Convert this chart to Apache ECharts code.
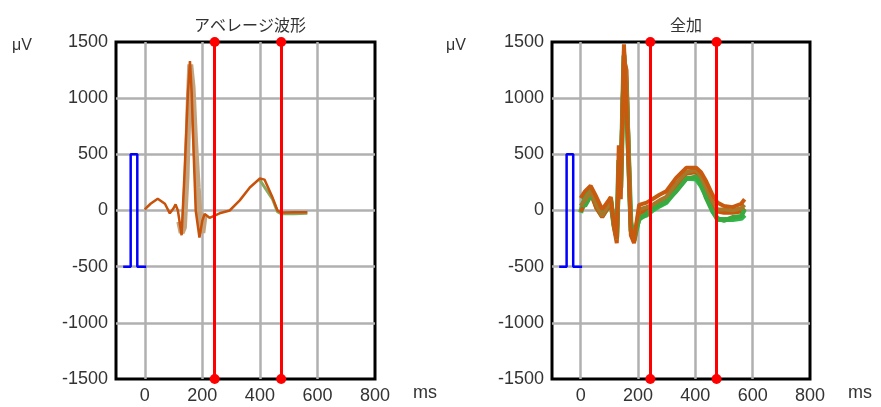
<!DOCTYPE html>
<html>
<head>
<meta charset="utf-8">
<script src="https://cdn.jsdelivr.net/npm/echarts@6/dist/echarts.min.js"></script>
<style>html,body{margin:0;padding:0;background:#fff;}#c{width:881px;height:407px;}</style>
</head>
<body>
<div id="c"></div>
<script>
// ---- data ----
const xTicks = [0, 200, 400, 600, 800];
const cursorTimes = [243, 474];
const calT = [-75, -49, -49, -26, -26, 5];
const calV = [-500, -500, 500, 500, -500, -500];

// average waveform (left)
const avgT = [0, 20, 45, 70, 87, 100, 107, 115, 128, 139, 150, 157, 163, 170, 177, 190, 200, 208, 225, 260, 295, 330, 365, 400, 416, 444, 461, 475, 520, 565];
const avgV = [10, 60, 105, 60, -25, 20, 55, 0, -220, 380, 1050, 1330, 1050, 500, 0, -240, -90, -30, -65, -25, 0, 90, 205, 285, 275, 115, 0, -18, -15, -15];
const avgShadowT = [120, 128, 136, 145, 152, 158, 166, 175, 184, 192, 200, 208];
const avgShadowV = [-100, -200, -150, 300, 900, 1300, 1100, 600, 200, -100, -200, -40];
const avgGreenT = [400, 444, 461, 475, 520, 565];
const avgGreenV = [270, 100, -10, -30, -30, -25];

// all sweeps (right)
const allT = [0, 15, 35, 55, 75, 95, 105, 116, 126, 133, 140, 151, 160, 175, 186, 204, 230, 250, 275, 298, 333, 368, 403, 420, 438, 460, 477, 500, 530, 560, 572];
const orange1 = [110, 170, 220, 120, 10, 80, 120, -130, -250, 580, 100, 1480, 900, -180, -260, 50, 70, 100, 140, 170, 290, 380, 380, 340, 260, 140, 70, 40, 30, 60, 100];
const orange2 = [40, 90, 170, 50, -50, 40, 90, -100, -260, 420, 300, 1420, 1150, -150, -250, 10, 30, 50, 90, 120, 240, 340, 360, 300, 200, 80, 10, 10, 0, 20, 50];
const orange3 = [-10, 60, 150, 20, -60, 20, 70, -150, -290, 300, 350, 1350, 1250, -220, -290, -20, 0, 20, 60, 100, 220, 330, 340, 280, 180, 50, -10, -20, -20, -10, 20];
const green1 = [-20, 120, 200, 30, -50, 30, 80, -130, -240, 450, 200, 1380, 1000, -100, -270, -60, -40, 0, 40, 70, 180, 290, 280, 220, 130, 10, -80, -80, -80, -70, -40];
const green2 = [70, 40, 130, 80, -20, 60, 110, -120, -220, 300, 250, 1300, 1100, -180, -230, -80, -30, 20, 50, 80, 170, 280, 300, 240, 110, -10, -70, -90, -60, -50, 10];

const titles = ['アベレージ波形', '全加'];

// ---- chart ----
const zip = (t, v) => t.map((x, i) => [x, v[i]]);
const font = 'Liberation Sans, Arial, sans-serif';
const labelColor = '#333';
const gridColor = '#b0b0b0';

function xAxisDef(gi) {
  return {
    gridIndex: gi, type: 'value', min: -100, max: 800,
    axisLine: { show: false },
    axisTick: { show: false, customValues: xTicks },
    axisLabel: { customValues: xTicks, color: labelColor, fontSize: 18, fontFamily: font, margin: 8 },
    splitLine: { show: true, showMinLine: true, showMaxLine: false, lineStyle: { color: gridColor, width: 2.5 } }
  };
}
function yAxisDef(gi) {
  return {
    gridIndex: gi, type: 'value', min: -1500, max: 1500, interval: 500,
    axisLine: { show: false }, axisTick: { show: false },
    axisLabel: { color: labelColor, fontSize: 18, fontFamily: font, margin: 8, formatter: v => String(v) },
    splitLine: { show: true, showMinLine: false, showMaxLine: false, lineStyle: { color: gridColor, width: 2.5 } }
  };
}
function cursorLine() {
  return {
    silent: true, symbol: ['circle', 'circle'], symbolSize: 10,
    label: { show: false },
    lineStyle: { color: '#ff0000', width: 3, type: 'solid' },
    itemStyle: { color: '#ff2a2a' },
    data: cursorTimes.map(t => ({ xAxis: t }))
  };
}
function lineS(gi, data, color, width, extra) {
  return Object.assign({
    type: 'line', xAxisIndex: gi, yAxisIndex: gi, data: data,
    showSymbol: false, symbol: 'none', animation: false,
    lineStyle: { color: color, width: width }, z: 3
  }, extra || {});
}

const option = {
  animation: false,
  backgroundColor: '#fff',
  title: [
    { text: titles[0], left: 245, top: 12, textAlign: 'center', textStyle: { fontSize: 16, fontWeight: 'normal', color: '#333', fontFamily: 'Noto Sans CJK JP' } },
    { text: titles[1], left: 681, top: 12, textAlign: 'center', textStyle: { fontSize: 16, fontWeight: 'normal', color: '#333', fontFamily: 'Noto Sans CJK JP' } }
  ],
  grid: [
    { left: 116, top: 42, width: 259, height: 337, show: true, borderColor: '#000', borderWidth: 3, backgroundColor: '#fff' },
    { left: 552, top: 42, width: 258, height: 337, show: true, borderColor: '#000', borderWidth: 3, backgroundColor: '#fff' }
  ],
  xAxis: [xAxisDef(0), xAxisDef(1)],
  yAxis: [yAxisDef(0), yAxisDef(1)],
  graphic: [
    { type: 'text', left: 12, top: 38, style: { text: 'μV', fontSize: 16, fill: '#333', fontFamily: font } },
    { type: 'text', left: 446, top: 38, style: { text: 'μV', fontSize: 16, fill: '#333', fontFamily: font } },
    { type: 'text', left: 413, top: 384, style: { text: 'ms', fontSize: 18, fill: '#333', fontFamily: font } },
    { type: 'text', left: 848, top: 384, style: { text: 'ms', fontSize: 18, fill: '#333', fontFamily: font } }
  ],
  series: [
    // left
    lineS(0, zip(calT, calV), '#0000ff', 2.5),
    lineS(0, zip(avgGreenT, avgGreenV), '#8aa860', 3),
    lineS(0, zip(avgShadowT, avgShadowV), '#c4a47e', 6),
    lineS(0, zip(avgT, avgV), '#c8520a', 2.5, { markLine: cursorLine() }),
    // right
    lineS(1, zip(calT, calV), '#0000ff', 2.5),
    lineS(1, zip(allT, green1), '#2db848', 5),
    lineS(1, zip(allT, orange3), '#c8560c', 4),
    lineS(1, zip(allT, green2), '#3aaa40', 4.5),
    lineS(1, zip(allT, orange2), '#a8782a', 4),
    lineS(1, zip(allT, orange1), '#c85a10', 4, { markLine: cursorLine() })
  ]
};
const chart = echarts.init(document.getElementById('c'));
chart.setOption(option);
</script>
</body>
</html>
